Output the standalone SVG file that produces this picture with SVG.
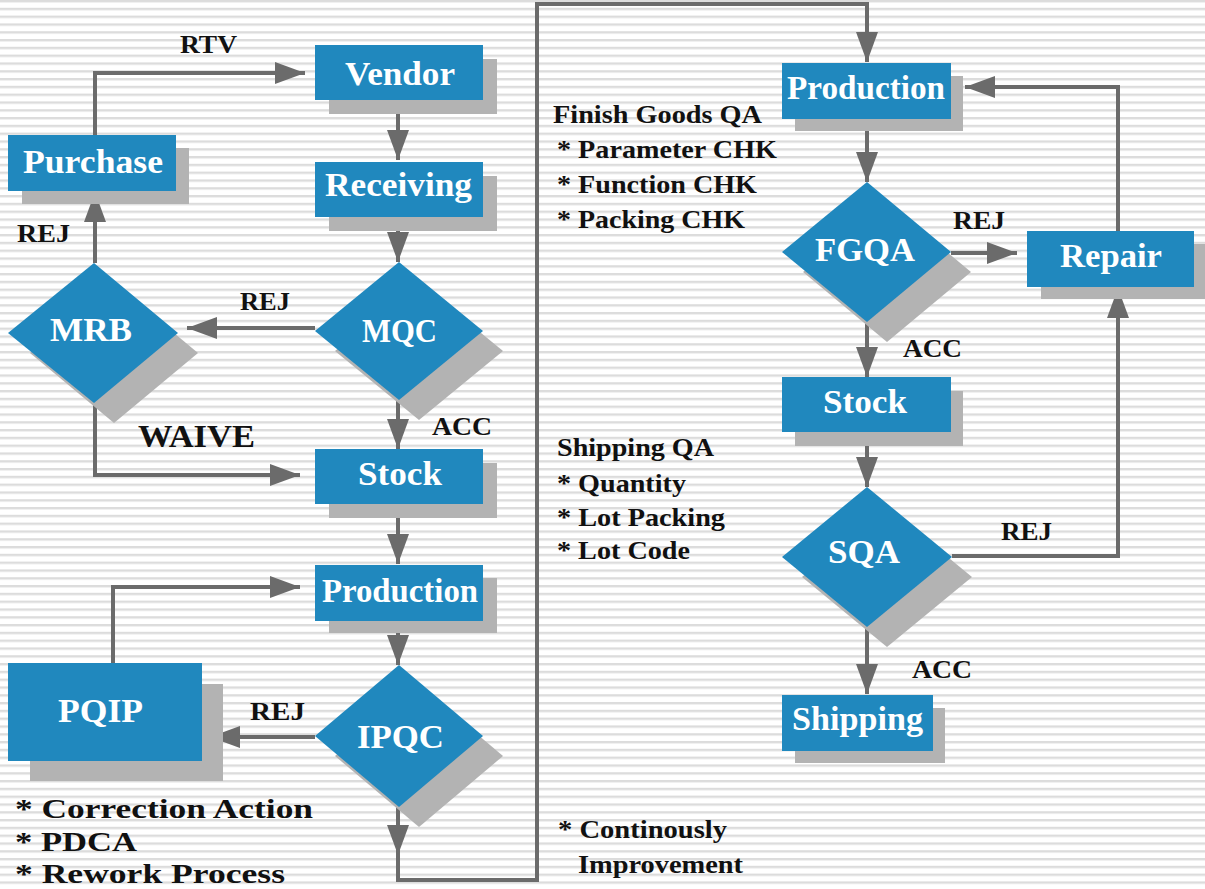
<svg xmlns="http://www.w3.org/2000/svg" width="1205" height="889" viewBox="0 0 1205 889">
<defs>
<pattern id="stripes" x="0" y="0" width="20" height="7.8" patternUnits="userSpaceOnUse">
<rect x="0" y="0" width="20" height="2.4" fill="#dcdcdc"/>
</pattern>
<marker id="arr" markerUnits="userSpaceOnUse" markerWidth="30" markerHeight="22" refX="30" refY="11" orient="auto">
<path d="M0,0 L30,11 L0,22 Z" fill="#6b6b6b"/>
</marker>
<style>
.box{fill:#2088be}
.sh{fill:#b3b3b3}
text{font-family:"Liberation Serif","DejaVu Serif","Times New Roman",serif;font-weight:bold}
.nt{font-size:34px;fill:#ffffff}
.lb{font-size:26px;fill:#111111}
.big{font-size:31px;fill:#111111}
.bul{font-size:27px;fill:#111111}
.cn{fill:none;stroke:#6b6b6b;stroke-width:4}
</style>
</defs>
<rect width="1205" height="889" fill="#ffffff"/>
<rect width="1205" height="889" fill="url(#stripes)"/>

<g id="connectors">
<path class="cn" d="M95,135 V73 H305" marker-end="url(#arr)"/>
<path class="cn" d="M398,100 V160" marker-end="url(#arr)"/>
<path class="cn" d="M398,217 V262" marker-end="url(#arr)"/>
<path class="cn" d="M315,328 H187" marker-end="url(#arr)"/>
<path class="cn" d="M95,263 V192" marker-end="url(#arr)"/>
<path class="cn" d="M95,403 V475 H300" marker-end="url(#arr)"/>
<path class="cn" d="M398,400 V449" marker-end="url(#arr)"/>
<path class="cn" d="M398,504 V564" marker-end="url(#arr)"/>
<path class="cn" d="M398,621 V665" marker-end="url(#arr)"/>
<path class="cn" d="M315,737 H210" marker-end="url(#arr)"/>
<path class="cn" d="M113,663 V587 H300" marker-end="url(#arr)"/>
<path class="cn" d="M398,807 V880 H537 V4 H867 V62" marker-end="url(#arr)"/>
<path class="cn" d="M398,807 V855" marker-end="url(#arr)"/>
<path class="cn" d="M867,119 V182" marker-end="url(#arr)"/>
<path class="cn" d="M951,253 H1017" marker-end="url(#arr)"/>
<path class="cn" d="M1118,231 V87 H965" marker-end="url(#arr)"/>
<path class="cn" d="M867,322 V377" marker-end="url(#arr)"/>
<path class="cn" d="M867,432 V487" marker-end="url(#arr)"/>
<path class="cn" d="M952,556 H1118 V288" marker-end="url(#arr)"/>
<path class="cn" d="M867,627 V694" marker-end="url(#arr)"/>
</g>

<g id="labels">
<text class="lb" x="180" y="53" textLength="57" lengthAdjust="spacingAndGlyphs">RTV</text>
<text class="lb" x="17" y="242" textLength="53" lengthAdjust="spacingAndGlyphs">REJ</text>
<text class="lb" x="240" y="310" textLength="50" lengthAdjust="spacingAndGlyphs">REJ</text>
<text class="big" x="138" y="447" textLength="117" lengthAdjust="spacingAndGlyphs">WAIVE</text>
<text class="lb" x="432" y="435" textLength="60" lengthAdjust="spacingAndGlyphs">ACC</text>
<text class="lb" x="250" y="720" textLength="55" lengthAdjust="spacingAndGlyphs">REJ</text>
<text class="lb" x="953" y="229" textLength="52" lengthAdjust="spacingAndGlyphs">REJ</text>
<text class="lb" x="903" y="357" textLength="59" lengthAdjust="spacingAndGlyphs">ACC</text>
<text class="lb" x="1001" y="540" textLength="51" lengthAdjust="spacingAndGlyphs">REJ</text>
<text class="lb" x="912" y="678" textLength="60" lengthAdjust="spacingAndGlyphs">ACC</text>
</g>

<g id="notes">
<text class="lb" x="553" y="123" textLength="209" lengthAdjust="spacingAndGlyphs">Finish Goods QA</text>
<text class="lb" x="557" y="158" textLength="220" lengthAdjust="spacingAndGlyphs">* Parameter CHK</text>
<text class="lb" x="557" y="193" textLength="200" lengthAdjust="spacingAndGlyphs">* Function CHK</text>
<text class="lb" x="557" y="228" textLength="188" lengthAdjust="spacingAndGlyphs">* Packing CHK</text>
<text class="lb" x="557" y="456" textLength="157" lengthAdjust="spacingAndGlyphs">Shipping QA</text>
<text class="lb" x="557" y="492" textLength="129" lengthAdjust="spacingAndGlyphs">* Quantity</text>
<text class="lb" x="557" y="526" textLength="168" lengthAdjust="spacingAndGlyphs">* Lot Packing</text>
<text class="lb" x="557" y="559" textLength="133" lengthAdjust="spacingAndGlyphs">* Lot Code</text>
<text class="lb" x="558" y="838" textLength="169" lengthAdjust="spacingAndGlyphs">* Continously</text>
<text class="lb" x="578" y="873" textLength="165" lengthAdjust="spacingAndGlyphs">Improvement</text>
<text class="bul" x="15" y="818" textLength="298" lengthAdjust="spacingAndGlyphs">* Correction Action</text>
<text class="bul" x="15" y="851" textLength="122" lengthAdjust="spacingAndGlyphs">* PDCA</text>
<text class="bul" x="15" y="883" textLength="270" lengthAdjust="spacingAndGlyphs">* Rework Process</text>
</g>

<g id="purchase">
<rect class="sh" x="22" y="148" width="167" height="56"/>
<rect class="box" x="8" y="135" width="168" height="56"/>
<text class="nt" x="23" y="173" textLength="140" lengthAdjust="spacingAndGlyphs">Purchase</text>
</g>
<g id="vendor">
<rect class="sh" x="329" y="59" width="168" height="55"/>
<rect class="box" x="315" y="45" width="168" height="55"/>
<text class="nt" x="345" y="85" textLength="110" lengthAdjust="spacingAndGlyphs">Vendor</text>
</g>
<g id="receiving">
<rect class="sh" x="329" y="176" width="168" height="55"/>
<rect class="box" x="315" y="162" width="168" height="55"/>
<text class="nt" x="325" y="196" textLength="147" lengthAdjust="spacingAndGlyphs">Receiving</text>
</g>
<g id="mqc">
<polygon class="sh" points="419,282 503,351 419,420 335,351"/>
<polygon class="box" points="399,262 483,331 399,400 315,331"/>
<text class="nt" x="362" y="342" textLength="75" lengthAdjust="spacingAndGlyphs">MQC</text>
</g>
<g id="mrb">
<polygon class="sh" points="114,283 198,353 114,423 30,353"/>
<polygon class="box" points="94,263 178,333 94,403 8,333"/>
<text class="nt" x="50" y="341" textLength="82" lengthAdjust="spacingAndGlyphs">MRB</text>
</g>
<g id="stock1">
<rect class="sh" x="329" y="463" width="168" height="55"/>
<rect class="box" x="315" y="449" width="168" height="55"/>
<text class="nt" x="358" y="485" textLength="84" lengthAdjust="spacingAndGlyphs">Stock</text>
</g>
<g id="production1">
<rect class="sh" x="329" y="578" width="168" height="55"/>
<rect class="box" x="315" y="565" width="168" height="56"/>
<text class="nt" x="322" y="602" textLength="156" lengthAdjust="spacingAndGlyphs">Production</text>
</g>
<g id="ipqc">
<polygon class="sh" points="419,685 503,756 419,827 335,756"/>
<polygon class="box" points="399,665 483,736 399,807 315,736"/>
<text class="nt" x="357" y="748" textLength="87" lengthAdjust="spacingAndGlyphs">IPQC</text>
</g>
<g id="pqip">
<rect class="sh" x="30" y="684" width="193" height="97"/>
<rect class="box" x="8" y="663" width="194" height="98"/>
<text class="nt" x="58" y="722" textLength="85" lengthAdjust="spacingAndGlyphs">PQIP</text>
</g>
<g id="production2">
<rect class="sh" x="795" y="76" width="168" height="55"/>
<rect class="box" x="782" y="63" width="169" height="56"/>
<text class="nt" x="787" y="99" textLength="158" lengthAdjust="spacingAndGlyphs">Production</text>
</g>
<g id="fgqa">
<polygon class="sh" points="887,202 971,272 887,342 803,272"/>
<polygon class="box" points="867,182 951,252 867,322 782,252"/>
<text class="nt" x="815" y="261" textLength="100" lengthAdjust="spacingAndGlyphs">FGQA</text>
</g>
<g id="repair">
<rect class="sh" x="1041" y="244" width="170" height="55"/>
<rect class="box" x="1027" y="231" width="167" height="56"/>
<text class="nt" x="1060" y="267" textLength="102" lengthAdjust="spacingAndGlyphs">Repair</text>
</g>
<g id="stock2">
<rect class="sh" x="795" y="391" width="168" height="55"/>
<rect class="box" x="782" y="377" width="169" height="55"/>
<text class="nt" x="823" y="413" textLength="84" lengthAdjust="spacingAndGlyphs">Stock</text>
</g>
<g id="sqa">
<polygon class="sh" points="887,507 972,577 887,647 802,577"/>
<polygon class="box" points="867,487 952,557 867,627 782,557"/>
<text class="nt" x="828" y="563" textLength="72" lengthAdjust="spacingAndGlyphs">SQA</text>
</g>
<g id="shipping">
<rect class="sh" x="795" y="708" width="150" height="55"/>
<rect class="box" x="782" y="695" width="151" height="56"/>
<text class="nt" x="792" y="730" textLength="131" lengthAdjust="spacingAndGlyphs">Shipping</text>
</g>
</svg>
